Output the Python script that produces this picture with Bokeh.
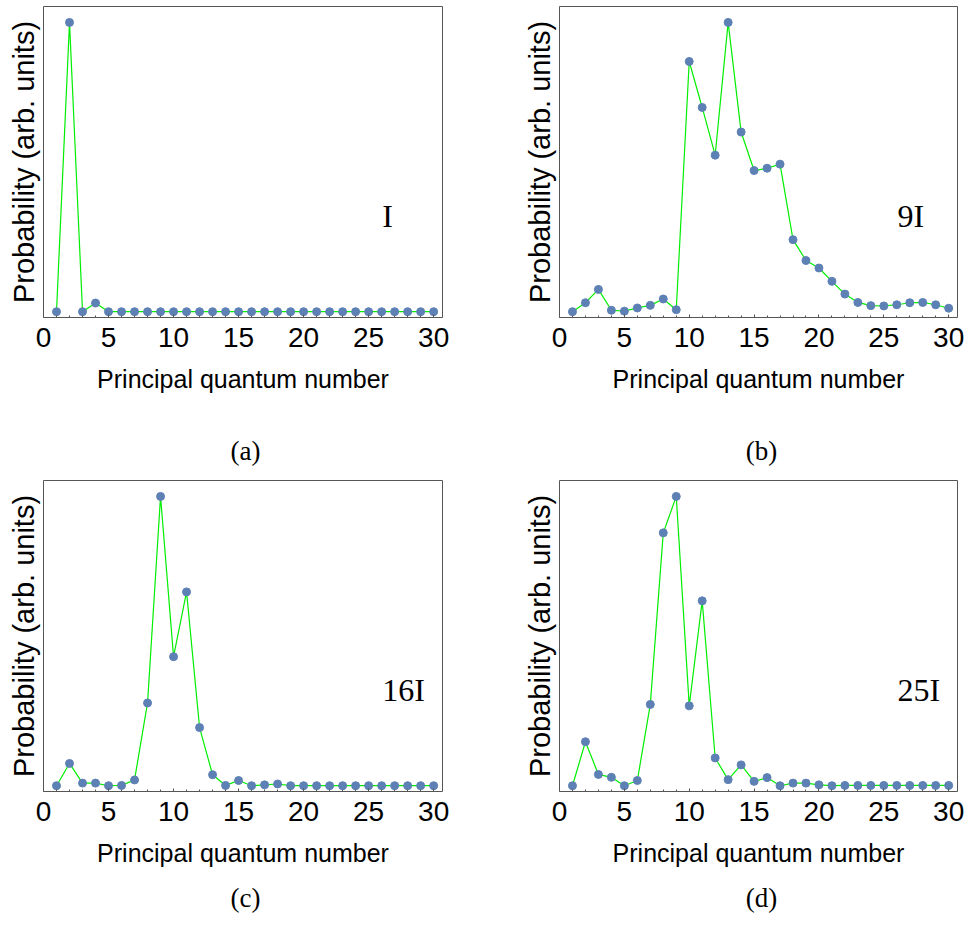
from bokeh.plotting import figure
from bokeh.layouts import column, row
from bokeh.models import Range1d, FixedTicker, Label
from bokeh.core.properties import value
from bokeh.embed import file_html
from bokeh.resources import INLINE

# ---- data ----
n = [1, 2, 3, 4, 5, 6, 7, 8, 9, 10, 11, 12, 13, 14, 15,
     16, 17, 18, 19, 20, 21, 22, 23, 24, 25, 26, 27, 28, 29, 30]

prob_a = [0.000, 1.000, 0.000, 0.030, 0.000, 0.000, 0.000, 0.000, 0.000, 0.000,
          0.000, 0.000, 0.000, 0.000, 0.000, 0.000, 0.000, 0.000, 0.000, 0.000,
          0.000, 0.000, 0.000, 0.000, 0.000, 0.000, 0.000, 0.000, 0.000, 0.000]

prob_b = [0.000, 0.031, 0.077, 0.005, 0.002, 0.013, 0.022, 0.044, 0.007, 0.865,
          0.706, 0.541, 1.000, 0.621, 0.488, 0.496, 0.510, 0.249, 0.177, 0.151,
          0.105, 0.061, 0.032, 0.021, 0.020, 0.024, 0.031, 0.032, 0.024, 0.012]

prob_c = [0.000, 0.077, 0.009, 0.009, 0.000, 0.001, 0.020, 0.286, 1.000, 0.446,
          0.670, 0.201, 0.038, 0.001, 0.018, 0.000, 0.003, 0.006, 0.000, 0.000,
          0.000, 0.000, 0.000, 0.000, 0.000, 0.000, 0.000, 0.000, 0.000, 0.000]

prob_d = [0.000, 0.152, 0.039, 0.029, 0.000, 0.018, 0.281, 0.874, 1.000, 0.276,
          0.639, 0.096, 0.021, 0.072, 0.015, 0.028, 0.000, 0.009, 0.009, 0.003,
          0.000, 0.001, 0.001, 0.001, 0.001, 0.001, 0.001, 0.001, 0.001, 0.001]

series = [prob_a, prob_b, prob_c, prob_d]
field_labels = ["I", "9I", "16I", "25I"]
captions = ["(a)", "(b)", "(c)", "(d)"]
x_ticks = [0, 5, 10, 15, 20, 25, 30]

x_label = "Principal quantum number"
y_label = "Probability (arb. units)"

LINE_COLOR = "#00ee00"
DOT_COLOR = "#5e81b5"
FRAME_COLOR = "#555555"
SANS = "Liberation Sans"
SERIF = "Liberation Serif"

PANEL_H = 410


def make_panel(k, left_col):
    width = 482 if left_col else 483
    b_left = 43 if left_col else 77
    b_right = 40 if left_col else 8
    p = figure(width=width, height=PANEL_H, output_backend="svg",
               toolbar_location=None, tools="",
               x_range=Range1d(0, 30.68), y_range=Range1d(-0.02, 1.055),
               min_border_left=b_left, min_border_right=b_right,
               min_border_top=6, min_border_bottom=PANEL_H - 317)
    p.grid.visible = False
    p.outline_line_color = FRAME_COLOR
    p.outline_line_width = 1
    p.background_fill_color = "white"
    p.border_fill_color = "white"

    xa = p.xaxis[0]
    xa.ticker = FixedTicker(ticks=x_ticks, minor_ticks=n)
    xa.axis_line_color = None
    xa.major_tick_in = 3
    xa.major_tick_out = 0
    xa.minor_tick_in = 2
    xa.minor_tick_out = 0
    xa.major_tick_line_color = FRAME_COLOR
    xa.minor_tick_line_color = FRAME_COLOR
    xa.major_label_text_font = SANS
    xa.major_label_text_font_size = "28px"
    xa.major_label_text_color = "black"
    xa.major_label_standoff = 10
    xa.axis_label = x_label
    xa.axis_label_text_font = SANS
    xa.axis_label_text_font_size = "25px"
    xa.axis_label_text_font_style = "normal"
    xa.axis_label_text_color = "black"
    xa.axis_label_standoff = 15

    ya = p.yaxis[0]
    ya.ticker = FixedTicker(ticks=[])
    ya.axis_line_color = None
    ya.major_tick_line_color = None
    ya.minor_tick_line_color = None
    ya.axis_label = y_label
    ya.axis_label_text_font = SANS
    ya.axis_label_text_font_size = "29px"
    ya.axis_label_text_font_style = "normal"
    ya.axis_label_text_color = "black"
    ya.axis_label_standoff = 4

    ys = series[k]
    p.line(n, ys, line_color=LINE_COLOR, line_width=1.2)
    p.scatter(n, ys, size=8, fill_color=DOT_COLOR, line_color=DOT_COLOR)

    p.add_layout(Label(x=26.05, y=0.33, text=field_labels[k],
                       text_font=SERIF, text_font_size="32px",
                       text_align="left", text_baseline="middle",
                       text_color="black"))
    return p


def make_caption_strip(texts, height, center_from_top):
    # a thin, axis-less strip holding the sub-figure captions
    s = figure(width=965, height=height, output_backend="svg",
               toolbar_location=None, tools="",
               x_range=Range1d(0, 965), y_range=Range1d(0, height),
               x_axis_location=None, y_axis_location=None,
               min_border=0)
    s.grid.visible = False
    s.outline_line_color = None
    s.background_fill_color = "white"
    s.border_fill_color = "white"
    cy = height - center_from_top
    s.text(x=[245, 761], y=[cy, cy], text=texts,
           text_font=value(SERIF), text_font_size="27px",
           text_align="center", text_baseline="middle", text_color="black")
    return s


pa = make_panel(0, True)
pb = make_panel(1, False)
pc = make_panel(2, True)
pd = make_panel(3, False)

cap1 = make_caption_strip(captions[0:2], 474 - PANEL_H, 450 - PANEL_H)
cap2 = make_caption_strip(captions[2:4], 941 - 474 - PANEL_H, 897 - 474 - PANEL_H)

layout = column(row(pa, pb), cap1, row(pc, pd), cap2)

html = file_html(layout, INLINE)
html = html.replace("<body>", "<body style=\"margin:0;padding:0\">")
open("out.html", "w").write(html)
